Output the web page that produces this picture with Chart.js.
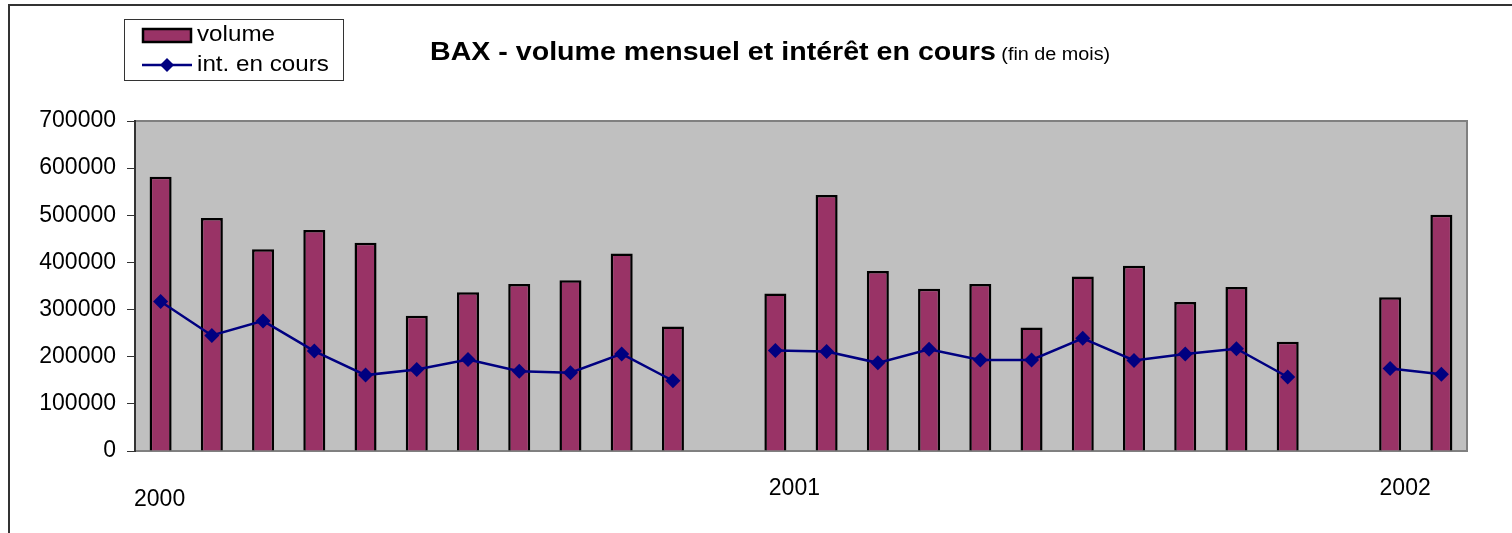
<!DOCTYPE html>
<html>
<head>
<meta charset="utf-8">
<script src="https://cdn.jsdelivr.net/npm/chart.js@4"></script>
<style>
  html, body { margin: 0; padding: 0; background: #fff; }
  #wrap { width: 1512px; height: 533px; }
</style>
</head>
<body>
<div id="wrap"><canvas id="chart"></canvas></div>
<script>
// monthly categories, Dec 2000 and Dec 2001 have no data
const months = [
  '2000-01', '2000-02', '2000-03', '2000-04', '2000-05', '2000-06', '2000-07',
  '2000-08', '2000-09', '2000-10', '2000-11', '2000-12',
  '2001-01', '2001-02', '2001-03', '2001-04', '2001-05', '2001-06', '2001-07',
  '2001-08', '2001-09', '2001-10', '2001-11', '2001-12',
  '2002-01', '2002-02'
];
const volume = [
  582000, 494000, 428000, 469000, 442000, 287000, 337000, 354000, 362000, 419000, 264000, null,
  334000, 543000, 382000, 344000, 354000, 262000, 370000, 393000, 316000, 348000, 232000, null,
  326000, 501000
];
const openInterest = [
  317000, 245000, 276000, 212000, 161000, 173000, 194000, 169000, 166000, 206000, 149000, null,
  213000, 211000, 187000, 216000, 193000, 193000, 239000, 192000, 206000, 217000, 157000, null,
  175000, 163000
];
const yTicks = [0, 100000, 200000, 300000, 400000, 500000, 600000, 700000];

const FONT = '"Liberation Sans", Arial, sans-serif';

// grey plot area, outer frame, title, legend and year labels
const decor = {
  id: 'decor',
  beforeDraw(chart) {
    const { ctx, chartArea: a } = chart;
    ctx.save();
    ctx.fillStyle = '#c0c0c0';
    ctx.fillRect(a.left, a.top, a.right - a.left, a.bottom - a.top);
    ctx.strokeStyle = '#808080';
    ctx.lineWidth = 2;
    ctx.beginPath();
    ctx.moveTo(a.left, a.top);
    ctx.lineTo(a.right, a.top);
    ctx.lineTo(a.right, a.bottom);
    ctx.stroke();
    // outer frame
    ctx.strokeStyle = '#333';
    ctx.lineWidth = 2;
    ctx.beginPath();
    ctx.moveTo(9, chart.height + 2);
    ctx.lineTo(9, 5);
    ctx.lineTo(chart.width + 2, 5);
    ctx.stroke();
    ctx.restore();
  },
  afterDraw(chart) {
    const { ctx } = chart;
    const x = chart.scales.x;
    ctx.save();

    // title
    ctx.fillStyle = '#000';
    ctx.textBaseline = 'alphabetic';
    ctx.save();
    ctx.translate(430, 60);
    ctx.scale(1.1, 1);
    ctx.font = 'bold 26px ' + FONT;
    const t = 'BAX - volume mensuel et intérêt en cours';
    ctx.fillText(t, 0, 0);
    const tw = ctx.measureText(t).width;
    ctx.font = '18px ' + FONT;
    ctx.fillText('(fin de mois)', tw + 5, 0);
    ctx.restore();

    // legend
    const ds = chart.data.datasets;
    ctx.fillStyle = '#fff';
    ctx.fillRect(124, 19, 219, 61);
    ctx.strokeStyle = '#333';
    ctx.lineWidth = 1;
    ctx.strokeRect(124.5, 19.5, 219, 61);
    ctx.fillStyle = ds[0].backgroundColor;
    ctx.fillRect(143, 29, 48, 13);
    ctx.strokeStyle = '#000';
    ctx.lineWidth = 2.5;
    ctx.strokeRect(143, 29, 48, 13);
    ctx.strokeStyle = ds[1].borderColor;
    ctx.lineWidth = 2.5;
    ctx.beginPath();
    ctx.moveTo(142, 65);
    ctx.lineTo(192, 65);
    ctx.stroke();
    ctx.fillStyle = ds[1].borderColor;
    ctx.beginPath();
    ctx.moveTo(167, 58); ctx.lineTo(174, 65); ctx.lineTo(167, 72); ctx.lineTo(160, 65);
    ctx.closePath();
    ctx.fill();
    ctx.fillStyle = '#000';
    ctx.textBaseline = 'middle';
    ctx.save();
    ctx.translate(197, 0);
    ctx.scale(1.1, 1);
    ctx.font = '22px ' + FONT;
    ctx.fillText(ds[0].label, 0, 35);
    ctx.fillText(ds[1].label, 0, 65);
    ctx.restore();

    // year labels under january
    ctx.font = '23px ' + FONT;
    ctx.textAlign = 'center';
    const shift = { '2000': [-1, 500], '2001': [19, 489], '2002': [15, 489] };
    months.forEach((m, i) => {
      if (!m.endsWith('-01')) return;
      const yr = m.slice(0, 4);
      const s = shift[yr] || [0, 489];
      ctx.fillText(yr, x.getPixelForValue(i) + s[0], s[1]);
    });
    ctx.restore();
  }
};

new Chart(document.getElementById('chart'), {
  data: {
    labels: months,
    datasets: [
      {
        type: 'bar',
        label: 'volume',
        data: volume,
        backgroundColor: '#993366',
        borderColor: '#000',
        borderWidth: 2.5,
        barPercentage: 0.43,
        categoryPercentage: 1,
        order: 2
      },
      {
        type: 'line',
        label: 'int. en cours',
        data: openInterest,
        borderColor: '#000080',
        borderWidth: 2.5,
        pointStyle: 'rectRot',
        pointRadius: 7.5,
        pointBackgroundColor: '#000080',
        pointBorderColor: '#000080',
        pointBorderWidth: 0,
        spanGaps: false,
        tension: 0,
        order: 1
      }
    ]
  },
  options: {
    responsive: true,
    maintainAspectRatio: false,
    animation: false,
    layout: { padding: { top: 121, right: 45, left: 0, bottom: 0 } },
    plugins: {
      legend: { display: false },
      title: { display: false },
      tooltip: { enabled: false }
    },
    scales: {
      x: {
        type: 'category',
        offset: true,
        grid: { display: false, drawTicks: false },
        border: { color: '#808080', width: 2 },
        ticks: { display: false },
        afterFit(scale) { scale.height = 82; }
      },
      y: {
        min: 0,
        max: 700000,
        afterBuildTicks(scale) { scale.ticks = yTicks.map(v => ({ value: v })); },
        grid: { drawOnChartArea: false, tickLength: 8, color: '#333', lineWidth: 1 },
        border: { color: '#333', width: 2 },
        ticks: {
          padding: 11,
          color: '#000',
          font: { family: FONT, size: 23 },
          callback: v => String(v)
        },
        afterFit(scale) { scale.width = 135; }
      }
    }
  },
  plugins: [decor]
});
</script>
</body>
</html>
